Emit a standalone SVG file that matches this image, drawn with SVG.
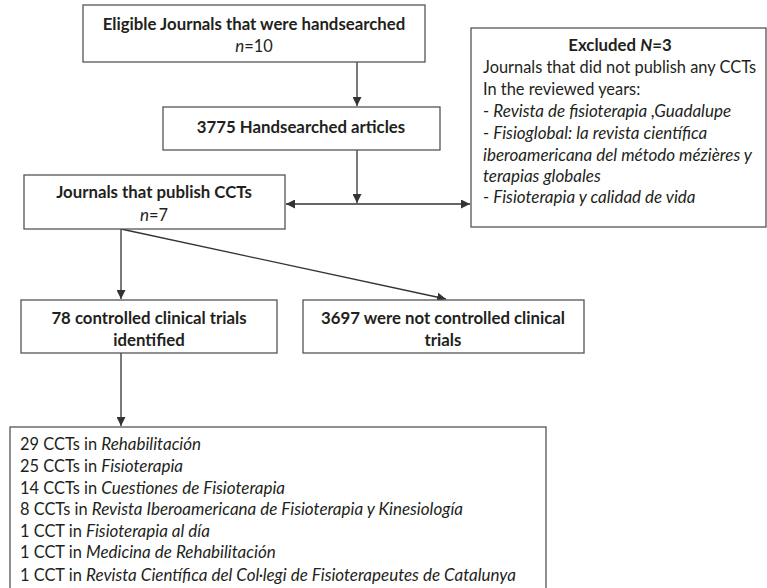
<svg xmlns="http://www.w3.org/2000/svg" width="767" height="588" viewBox="0 0 767 588">
<style>
.box{fill:#fff;stroke:#555;stroke-width:1.3}
text{font-family:Lato,"Open Sans",sans-serif;font-size:16.4px;fill:#231f20}
.b{font-weight:bold;font-size:16.8px}
.c{text-anchor:middle}
.i{font-style:italic;font-size:17px}
.ln{stroke:#333;stroke-width:1.3;fill:none}
</style>
<defs>
<marker id="ah" viewBox="0 0 10 10" refX="10" refY="5" markerWidth="9" markerHeight="9" markerUnits="userSpaceOnUse" orient="auto-start-reverse">
<path d="M0,0 L10,5 L0,10 z" fill="#333"/>
</marker>
</defs>
<rect width="767" height="588" fill="#fff"/>
<g id="connectors">
<line class="ln" x1="357" y1="62" x2="357" y2="106" marker-end="url(#ah)"/>
<line class="ln" x1="357" y1="150" x2="357" y2="203" marker-end="url(#ah)"/>
<line class="ln" x1="286" y1="204" x2="470" y2="204" marker-start="url(#ah)" marker-end="url(#ah)"/>
<line class="ln" x1="121" y1="229" x2="121" y2="299" marker-end="url(#ah)"/>
<line class="ln" x1="121" y1="229" x2="446" y2="299" marker-end="url(#ah)"/>
<line class="ln" x1="121" y1="353" x2="121" y2="426" marker-end="url(#ah)"/>
</g>
<g id="n1">
<rect class="box" x="83" y="5" width="342" height="57"/>
<text class="b c" x="254" y="30">Eligible Journals that were handsearched</text>
<text class="c" x="254" y="52"><tspan class="i">n</tspan>=10</text>
</g>
<g id="n2">
<rect class="box" x="163" y="107" width="277" height="43"/>
<text class="b c" x="301" y="133">3775 Handsearched articles</text>
</g>
<g id="n3">
<rect class="box" x="24" y="175" width="261" height="54"/>
<text class="b c" x="154" y="198">Journals that publish CCTs</text>
<text class="c" x="154" y="221"><tspan class="i">n</tspan>=7</text>
</g>
<g id="n_excluded">
<rect class="box" x="471" y="28" width="295" height="199"/>
<text class="b c" x="620" y="51">Excluded <tspan font-style="italic">N</tspan>=3</text>
<text x="483" y="73">Journals that did not publish any CCTs</text>
<text x="483" y="95">In the reviewed years:</text>
<text x="483" y="117">- <tspan class="i">Revista de fisioterapia ,Guadalupe</tspan></text>
<text x="483" y="139">- <tspan class="i">Fisioglobal: la revista científica</tspan></text>
<text x="483" y="161" class="i">iberoamericana del método mézières y</text>
<text x="483" y="182" class="i">terapias globales</text>
<text x="483" y="203">- <tspan class="i">Fisioterapia y calidad de vida</tspan></text>
</g>
<g id="n4">
<rect class="box" x="21" y="300" width="256" height="53"/>
<text class="b c" x="149" y="324">78 controlled clinical trials</text>
<text class="b c" x="149" y="346">identified</text>
</g>
<g id="n5">
<rect class="box" x="303" y="300" width="281" height="53"/>
<text class="b c" x="443" y="324">3697 were not controlled clinical</text>
<text class="b c" x="443" y="346">trials</text>
</g>
<g id="n6">
<rect class="box" x="10" y="427" width="536" height="170"/>
<text x="20" y="450">29 CCTs in <tspan class="i">Rehabilitación</tspan></text>
<text x="20" y="472">25 CCTs in <tspan class="i">Fisioterapia</tspan></text>
<text x="20" y="494">14 CCTs in <tspan class="i">Cuestiones de Fisioterapia</tspan></text>
<text x="20" y="515">8 CCTs in <tspan class="i">Revista Iberoamericana de Fisioterapia y Kinesiología</tspan></text>
<text x="20" y="537">1 CCT in <tspan class="i">Fisioterapia al día</tspan></text>
<text x="20" y="558">1 CCT in <tspan class="i">Medicina de Rehabilitación</tspan></text>
<text x="20" y="581">1 CCT in <tspan class="i">Revista Científica del Col·legi de Fisioterapeutes de Catalunya</tspan></text>
</g>
</svg>
